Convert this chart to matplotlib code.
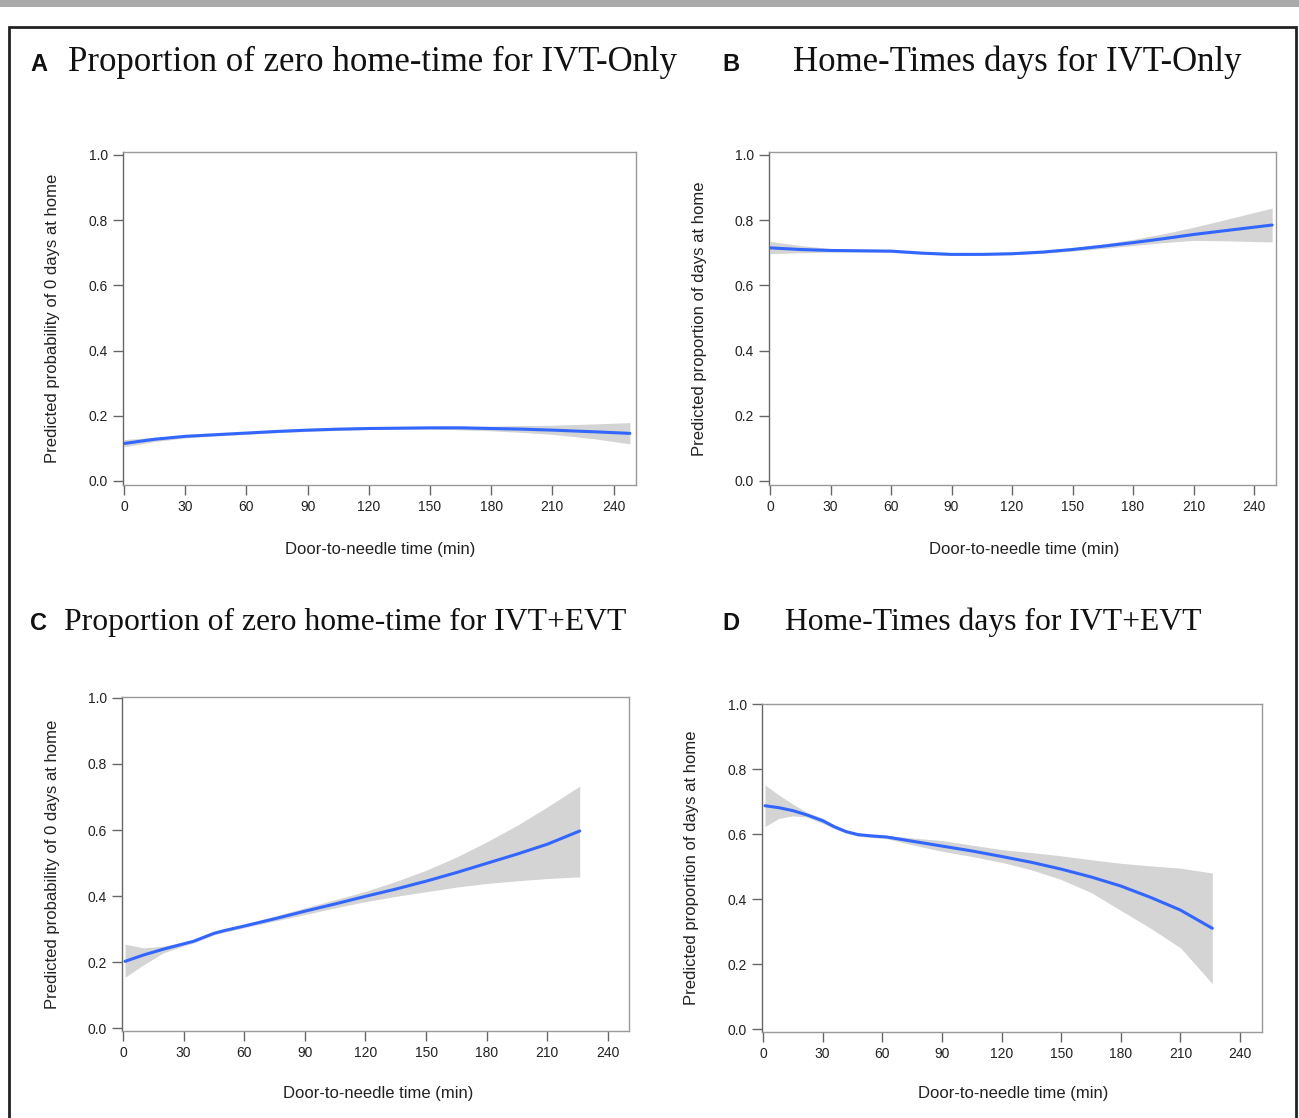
import numpy as np
import matplotlib
matplotlib.use("Agg")
import matplotlib.pyplot as plt
from matplotlib.patches import Rectangle

# panel A: zero home-time, IVT-only
a_x = [0, 15, 30, 45, 60, 75, 90, 105, 120, 135, 150, 165, 180, 195, 210, 230, 248]
a_fit = [0.115, 0.128, 0.137, 0.142, 0.147, 0.152, 0.156, 0.159, 0.161, 0.162, 0.163, 0.163, 0.161, 0.159, 0.156, 0.151, 0.146]
a_lo = [0.105, 0.121, 0.132, 0.138, 0.143, 0.148, 0.152, 0.155, 0.158, 0.159, 0.159, 0.157, 0.154, 0.149, 0.143, 0.130, 0.114]
a_hi = [0.127, 0.134, 0.141, 0.146, 0.151, 0.155, 0.159, 0.162, 0.164, 0.165, 0.167, 0.168, 0.168, 0.170, 0.171, 0.175, 0.179]

# panel B: home-time days, IVT-only
b_x = [0, 15, 30, 45, 60, 75, 90, 105, 120, 135, 150, 165, 180, 195, 210, 230, 249]
b_fit = [0.715, 0.710, 0.707, 0.706, 0.705, 0.699, 0.695, 0.695, 0.697, 0.702, 0.710, 0.720, 0.731, 0.743, 0.756, 0.771, 0.785]
b_lo = [0.697, 0.700, 0.702, 0.702, 0.701, 0.695, 0.692, 0.692, 0.694, 0.698, 0.705, 0.713, 0.722, 0.731, 0.738, 0.736, 0.733]
b_hi = [0.735, 0.722, 0.713, 0.710, 0.709, 0.703, 0.698, 0.698, 0.700, 0.706, 0.716, 0.727, 0.741, 0.758, 0.778, 0.808, 0.837]

# panel C: zero home-time, IVT+EVT
c_x = [1, 10, 20, 30, 35, 40, 45, 50, 60, 75, 90, 105, 120, 135, 150, 165, 180, 195, 210, 226]
c_fit = [0.202, 0.221, 0.239, 0.255, 0.263, 0.275, 0.287, 0.295, 0.309, 0.331, 0.354, 0.376, 0.399, 0.421, 0.445, 0.471, 0.499, 0.527, 0.557, 0.597]
c_lo = [0.154, 0.191, 0.228, 0.249, 0.258, 0.270, 0.282, 0.290, 0.304, 0.324, 0.344, 0.364, 0.383, 0.399, 0.413, 0.427, 0.438, 0.446, 0.453, 0.458]
c_hi = [0.254, 0.243, 0.248, 0.261, 0.268, 0.280, 0.292, 0.300, 0.314, 0.339, 0.364, 0.389, 0.414, 0.444, 0.478, 0.518, 0.564, 0.614, 0.670, 0.733]

# panel D: home-time days, IVT+EVT
d_x = [1, 8, 15, 22, 30, 36, 42, 48, 55, 62, 75, 90, 105, 120, 135, 150, 165, 180, 195, 210, 226]
d_fit = [0.687, 0.681, 0.672, 0.659, 0.641, 0.622, 0.607, 0.598, 0.594, 0.591, 0.578, 0.563, 0.548, 0.531, 0.513, 0.492, 0.468, 0.440, 0.405, 0.366, 0.310]
d_lo = [0.623, 0.648, 0.656, 0.652, 0.633, 0.616, 0.602, 0.593, 0.589, 0.586, 0.567, 0.547, 0.531, 0.513, 0.490, 0.460, 0.420, 0.365, 0.310, 0.250, 0.140]
d_hi = [0.751, 0.720, 0.692, 0.667, 0.649, 0.628, 0.612, 0.603, 0.599, 0.596, 0.588, 0.580, 0.566, 0.552, 0.543, 0.533, 0.521, 0.510, 0.502, 0.495, 0.480]

xticks = [0, 30, 60, 90, 120, 150, 180, 210, 240]
yticks = [0.0, 0.2, 0.4, 0.6, 0.8, 1.0]
xlab = "Door-to-needle time (min)"
ylab_zero = "Predicted probability of 0 days at home"
ylab_prop = "Predicted proportion of days at home"

W, H = 1299, 1118
fig = plt.figure(figsize=(W / 100, H / 100), dpi=100)
plt.rcParams["font.family"] = ["Liberation Sans", "DejaVu Sans"]

# frame around the figure and grey strip at top
fig.patches.append(Rectangle((0, 1 - 7 / H), 1, 7 / H, transform=fig.transFigure,
                             color="#aaaaaa", lw=0))
fig.patches.append(Rectangle((9 / W, -0.05), (1296 - 9) / W, 1.05 - 27 / H,
                             transform=fig.transFigure, fill=False,
                             ec="#222222", lw=2))


def panel(box, xlim, ylim, x, fit, lo, hi, ylabel, ylab_x, xlab_y, xlab_cx):
    l, r, t, b = box
    ax = fig.add_axes([l / W, 1 - b / H, (r - l) / W, (b - t) / H])
    ax.fill_between(x, lo, hi, color="#d4d4d4", lw=0)
    ax.plot(x, fit, color="#3366ff", lw=2.2, solid_capstyle="round",
            solid_joinstyle="round")
    ax.set_xlim(*xlim)
    ax.set_ylim(*ylim)
    ax.set_xticks(xticks)
    ax.set_yticks(yticks)
    ax.set_yticklabels([f"{v:.1f}" for v in yticks])
    for s in ax.spines.values():
        s.set_color("#999999")
        s.set_linewidth(1)
    ax.spines["left"].set_color("#666666")
    ax.tick_params(direction="out", length=7, width=1, color="#666666",
                   labelsize=10, labelcolor="#222222", pad=4)
    ax.set_ylabel(ylabel, fontsize=12, color="#222222")
    ax.yaxis.set_label_coords((ylab_x - l) / (r - l), 0.5)
    ax.set_xlabel(xlab, fontsize=12, color="#222222")
    ax.xaxis.set_label_coords((xlab_cx - l) / (r - l), (b - xlab_y) / (b - t))
    return ax


panel((123, 636, 152, 485), (-0.5, 251), (-0.0123, 1.009), a_x, a_fit, a_lo, a_hi,
      ylab_zero, 60, 542, 380)
panel((769, 1276, 152, 485), (-0.5, 250.9), (-0.0123, 1.009), b_x, b_fit, b_lo, b_hi,
      ylab_prop, 707, 542, 1024)
panel((122, 629, 697, 1031), (-0.5, 250.4), (-0.009, 1.003), c_x, c_fit, c_lo, c_hi,
      ylab_zero, 60, 1086, 378)
panel((762, 1262, 704, 1032), (-0.5, 251), (-0.009, 1.0), d_x, d_fit, d_lo, d_hi,
      ylab_prop, 699, 1086, 1013)

titles = [
    (30, 68, 71, "A", "Proportion of zero home-time for IVT-Only", 25),
    (722, 793, 71, "B", "Home-Times days for IVT-Only", 25),
    (30, 64, 630, "C", "Proportion of zero home-time for IVT+EVT", 22.8),
    (722, 785, 630, "D", "Home-Times days for IVT+EVT", 22.8),
]
for lx, tx, by, letter, text, fs in titles:
    fig.text(lx / W, 1 - by / H, letter, fontsize=17, fontweight="bold",
             va="baseline", ha="left", color="#111111")
    fig.text(tx / W, 1 - by / H, text, fontsize=fs, family="Liberation Serif",
             va="baseline", ha="left", color="#111111")

fig.savefig("out.png", dpi=100)
